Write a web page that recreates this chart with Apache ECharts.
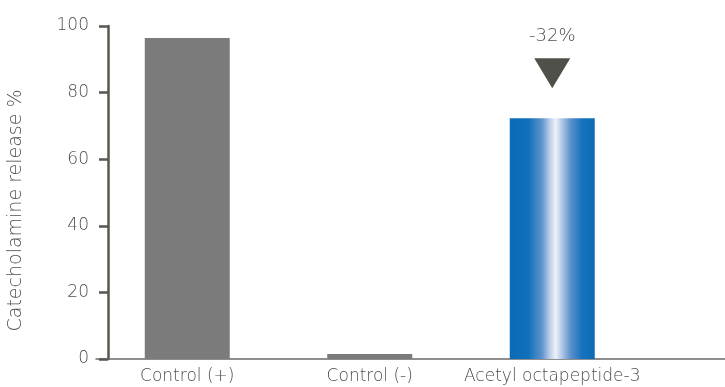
<!DOCTYPE html>
<html>
<head>
<meta charset="utf-8">
<script src="https://cdn.jsdelivr.net/npm/echarts@6/dist/echarts.min.js"></script>
<style>
  html, body { margin: 0; padding: 0; background: #fff; }
  #chart { width: 725px; height: 387px; }
</style>
</head>
<body>
<div id="chart"></div>
<script>
// Catecholamine release by treatment
var categories = ['Control (+)', 'Control (-)', 'Acetyl octapeptide-3', ''];
var releaseValues = [96.4, 1.5, 72.3];
var yTicks = [0, 20, 40, 60, 80, 100];
var reductionLabel = '-32%';

var FONT = 'DejaVu Sans';
var TEXT = '#4e4e4e';
var AXIS = '#58584f';

var blueGradient = new echarts.graphic.LinearGradient(0, 0, 1, 0, [
  { offset: 0.00, color: '#0a6bb6' },
  { offset: 0.22, color: '#1270bb' },
  { offset: 0.38, color: '#5f93cd' },
  { offset: 0.47, color: '#b9cde9' },
  { offset: 0.54, color: '#eef2fa' },
  { offset: 0.61, color: '#b3c9e6' },
  { offset: 0.72, color: '#5a8fcb' },
  { offset: 0.85, color: '#1773bd' },
  { offset: 1.00, color: '#0a6bb6' }
]);

var barData = releaseValues.map(function (v, i) {
  return {
    value: v,
    itemStyle: { color: i === 2 ? blueGradient : '#7b7b7b' }
  };
});

var chart = echarts.init(document.getElementById('chart'), null, { renderer: 'canvas' });
chart.setOption({
  animation: false,
  backgroundColor: '#ffffff',
  grid: {
    left: 96, width: 730, top: 26, height: 333,
    containLabel: false,
    outerBoundsMode: 'none'
  },
  xAxis: {
    type: 'category',
    data: categories,
    boundaryGap: true,
    axisLine: { show: true, lineStyle: { color: '#6a6a6a', width: 1.5 } },
    axisTick: { show: false },
    axisLabel: { color: TEXT, fontFamily: FONT, fontWeight: 'lighter', fontSize: 17, margin: 9, interval: 0 }
  },
  yAxis: {
    type: 'value',
    min: yTicks[0],
    max: yTicks[yTicks.length - 1],
    interval: yTicks[1] - yTicks[0],
    offset: -12,
    name: 'Catecholamine release %',
    nameLocation: 'middle',
    nameGap: 82,
    nameRotate: 90,
    nameTextStyle: { color: TEXT, fontFamily: FONT, fontWeight: 'lighter', fontSize: 19, padding: [0, 36, 0, 0] },
    axisLine: { show: true, lineStyle: { color: AXIS, width: 2.5 } },
    axisTick: { show: true, inside: false, length: 9, lineStyle: { color: AXIS, width: 2.5 } },
    axisLabel: { color: TEXT, fontFamily: FONT, fontWeight: 'lighter', fontSize: 17, margin: 19 },
    splitLine: { show: false }
  },
  series: [{
    type: 'bar',
    data: barData,
    barWidth: 85,
    markPoint: {
      silent: true,
      data: [{
        coord: [2, releaseValues[2]],
        symbol: 'triangle',
        symbolRotate: 180,
        symbolSize: [36, 30],
        symbolOffset: [0, -45],
        itemStyle: { color: '#50504a' },
        label: {
          show: true,
          position: 'top',
          distance: 13,
          formatter: reductionLabel,
          color: TEXT,
          fontFamily: FONT,
          fontWeight: 'lighter',
          fontSize: 18
        }
      }]
    }
  }]
});
</script>
</body>
</html>
